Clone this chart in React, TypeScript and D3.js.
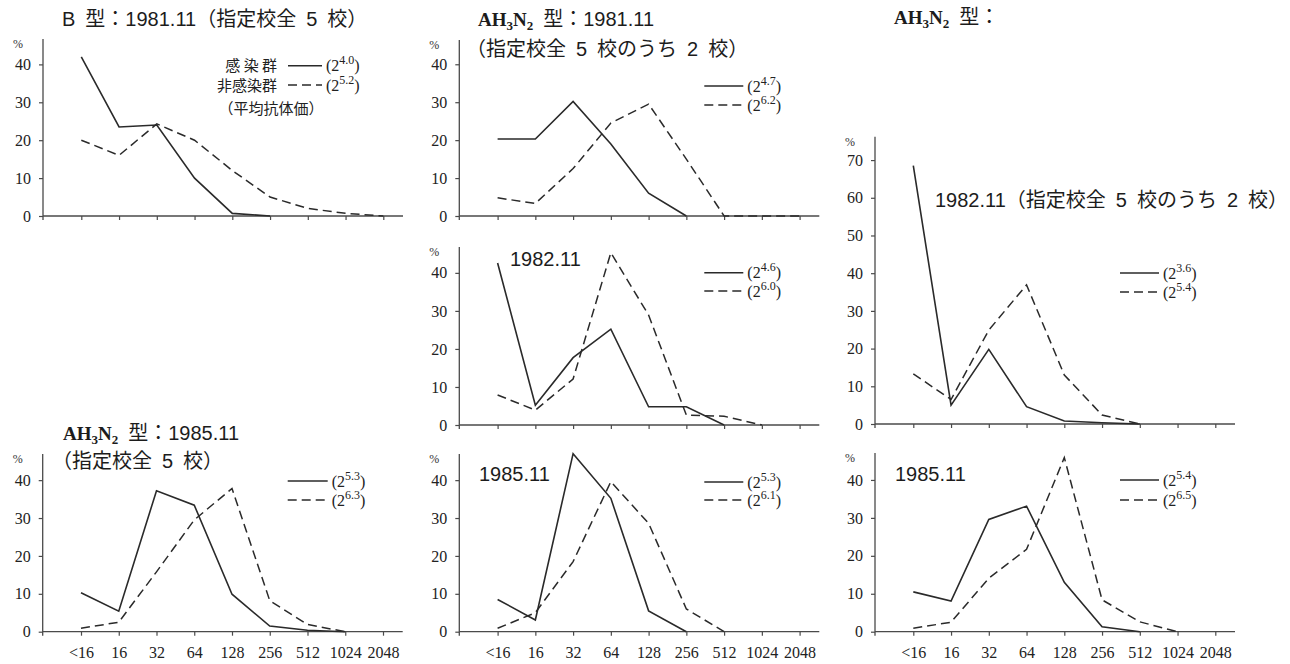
import React, { useEffect, useRef } from "react";
import * as d3 from "d3";

// 抗体価（HI価）の区分
const TITRES = ["<16", "16", "32", "64", "128", "256", "512", "1024", "2048"];

// 各区分の割合 (%)：感染群（実線）/ 非感染群（破線）
const bInfected1981 = [42, 23.5, 24, 10, 0.7, 0];
const bNonInfected1981 = [20, 16, 24.3, 20, 12, 5, 2, 0.7, 0];
const bMeanExp1981 = ["4.0", "5.2"];

const h3Infected1981 = [20.3, 20.3, 30.2, 19, 6, 0];
const h3NonInfected1981 = [4.8, 3.3, 12.5, 24.5, 29.5, 15, 0, 0, 0];
const h3MeanExp1981 = ["4.7", "6.2"];

const h3Infected1982a = [42.6, 5.2, 17.7, 25.2, 4.8, 4.8, 0];
const h3NonInfected1982a = [7.9, 3.9, 12.1, 45.3, 28.9, 2.6, 2.3, 0];
const h3MeanExp1982a = ["4.6", "6.0"];

const h3Infected1982b = [68.5, 5, 19.8, 4.6, 0.8, 0.35, 0];
const h3NonInfected1982b = [13.3, 6.5, 24.9, 36.9, 13, 2.4, 0];
const h3MeanExp1982b = ["3.6", "5.4"];

const h3Infected1985a = [10.3, 5.4, 37.2, 33.4, 9.9, 1.5, 0.4, 0];
const h3NonInfected1985a = [0.9, 2.5, 15.8, 29.5, 37.8, 8.2, 1.9, 0];
const h3MeanExp1985a = ["5.3", "6.3"];

const h3Infected1985b = [8.5, 3.1, 47, 35.2, 5.5, 0];
const h3NonInfected1985b = [0.9, 5, 18.5, 39.6, 28.6, 6, 0];
const h3MeanExp1985b = ["5.3", "6.1"];

const h3Infected1985c = [10.5, 8.1, 29.6, 33.1, 13, 1.3, 0];
const h3NonInfected1985c = [0.9, 2.5, 14.1, 21.7, 45.9, 8.4, 2.6, 0];
const h3MeanExp1985c = ["5.4", "6.5"];

const Y_TICKS_40 = [0, 10, 20, 30, 40];
const Y_TICKS_70 = [0, 10, 20, 30, 40, 50, 60, 70];

const INK = "#2a2a2a";
const AXIS = "#4a4a4a";
const SANS = "'Liberation Sans', Arial, 'Noto Sans CJK JP', sans-serif";
const CJK = "'Noto Sans CJK JP', 'Liberation Sans', sans-serif";
const SERIF = "'Liberation Serif', 'Times New Roman', serif";
const SP = "\u2002"; // 見出し内の語間

type Seg = { t: string; k: "sans" | "bold" | "sub" };
type Caption = { x: number; y: number; segs: Seg[] };

const AH3N2: Seg[] = [
  { t: "AH", k: "bold" },
  { t: "3", k: "sub" },
  { t: "N", k: "bold" },
  { t: "2", k: "sub" },
];

type Panel = {
  x0: number;
  y0: number;
  yTop: number;
  yMax: number;
  yTicks: number[];
  xLabels: boolean;
  infected: number[];
  nonInfected: number[];
  exps: string[];
  legendY: number[];
  legendLen: number;
  groupNames?: boolean;
  captions: Caption[];
};

const PANELS: Panel[] = [
  {
    x0: 43, y0: 216, yTop: 39, yMax: 46.7, yTicks: Y_TICKS_40, xLabels: false,
    infected: bInfected1981, nonInfected: bNonInfected1981, exps: bMeanExp1981,
    legendY: [65.7, 85], legendLen: 34, groupNames: true,
    captions: [{ x: 62, y: 26, segs: [{ t: `B${SP}型：1981.11（指定校全${SP}5${SP}校）`, k: "sans" }] }],
  },
  {
    x0: 459.3, y0: 216, yTop: 40, yMax: 46.4, yTicks: Y_TICKS_40, xLabels: false,
    infected: h3Infected1981, nonInfected: h3NonInfected1981, exps: h3MeanExp1981,
    legendY: [86, 105], legendLen: 39,
    captions: [
      { x: 478, y: 26, segs: [...AH3N2, { t: `${SP}型：1981.11`, k: "sans" }] },
      { x: 466, y: 56, segs: [{ t: `（指定校全${SP}5${SP}校のうち${SP}2${SP}校）`, k: "sans" }] },
    ],
  },
  {
    x0: 459.3, y0: 425, yTop: 247, yMax: 46.8, yTicks: Y_TICKS_40, xLabels: false,
    infected: h3Infected1982a, nonInfected: h3NonInfected1982a, exps: h3MeanExp1982a,
    legendY: [272.7, 291], legendLen: 39,
    captions: [{ x: 510, y: 266, segs: [{ t: "1982.11", k: "sans" }] }],
  },
  {
    x0: 875, y0: 424, yTop: 136.7, yMax: 76.2, yTicks: Y_TICKS_70, xLabels: false,
    infected: h3Infected1982b, nonInfected: h3NonInfected1982b, exps: h3MeanExp1982b,
    legendY: [273, 292], legendLen: 39,
    captions: [
      { x: 894, y: 24, segs: [...AH3N2, { t: `${SP}型：`, k: "sans" }] },
      { x: 935, y: 207, segs: [{ t: `1982.11（指定校全${SP}5${SP}校のうち${SP}2${SP}校）`, k: "sans" }] },
    ],
  },
  {
    x0: 42.7, y0: 631.7, yTop: 454, yMax: 46.9, yTicks: Y_TICKS_40, xLabels: true,
    infected: h3Infected1985a, nonInfected: h3NonInfected1985a, exps: h3MeanExp1985a,
    legendY: [481, 500], legendLen: 40,
    captions: [
      { x: 63, y: 440, segs: [...AH3N2, { t: `${SP}型：1985.11`, k: "sans" }] },
      { x: 52, y: 468, segs: [{ t: `（指定校全${SP}5${SP}校）`, k: "sans" }] },
    ],
  },
  {
    x0: 459.3, y0: 631.7, yTop: 454, yMax: 46.9, yTicks: Y_TICKS_40, xLabels: true,
    infected: h3Infected1985b, nonInfected: h3NonInfected1985b, exps: h3MeanExp1985b,
    legendY: [482, 500], legendLen: 39,
    captions: [{ x: 479, y: 481, segs: [{ t: "1985.11", k: "sans" }] }],
  },
  {
    x0: 875, y0: 631.7, yTop: 453, yMax: 47.1, yTicks: Y_TICKS_40, xLabels: true,
    infected: h3Infected1985c, nonInfected: h3NonInfected1985c, exps: h3MeanExp1985c,
    legendY: [480, 500], legendLen: 39,
    captions: [{ x: 895, y: 481, segs: [{ t: "1985.11", k: "sans" }] }],
  },
];

function drawCaption(g: d3.Selection<SVGGElement, unknown, null, undefined>, c: Caption) {
  const text = g
    .append("text")
    .attr("x", c.x)
    .attr("y", c.y)
    .attr("fill", "#1c1c1c")
    .style("white-space", "pre");
  let shift = 0;
  c.segs.forEach((s) => {
    const span = text.append("tspan").text(s.t);
    const target = s.k === "sub" ? 4 : 0;
    if (target !== shift) {
      span.attr("dy", target - shift);
      shift = target;
    }
    if (s.k === "sans") span.style("font-family", SANS).attr("font-size", 20);
    else if (s.k === "bold")
      span.style("font-family", SERIF).attr("font-weight", "bold").attr("font-size", 19);
    else span.style("font-family", SERIF).attr("font-weight", "bold").attr("font-size", 13);
  });
}

function drawPanel(svg: d3.Selection<SVGSVGElement, unknown, null, undefined>, p: Panel) {
  const g = svg.append("g");
  const x = d3
    .scalePoint<string>()
    .domain(TITRES)
    .range([p.x0 + 38.3, p.x0 + 340.3]);
  const y = d3.scaleLinear().domain([0, p.yMax]).range([p.y0, p.yTop]);

  // x 軸
  const xAxis = g
    .append("g")
    .attr("transform", `translate(0,${p.y0})`)
    .call(
      d3
        .axisBottom(x)
        .tickSize(4)
        .tickPadding(11)
        .tickFormat((d) => (p.xLabels ? d : ""))
    );
  xAxis.select(".domain").remove();
  xAxis.selectAll("line").attr("stroke", AXIS).attr("stroke-width", 1.2);
  xAxis
    .selectAll("text")
    .style("font-family", SERIF)
    .style("font-size", "16px")
    .attr("fill", "#222");
  g.append("line")
    .attr("x1", p.x0)
    .attr("x2", p.x0 + 360)
    .attr("y1", p.y0)
    .attr("y2", p.y0)
    .attr("stroke", AXIS)
    .attr("stroke-width", 1.3);

  // y 軸
  const yAxis = g
    .append("g")
    .attr("transform", `translate(${p.x0},0)`)
    .call(d3.axisLeft(y).tickValues(p.yTicks).tickSize(4).tickPadding(8));
  yAxis.select(".domain").remove();
  yAxis.selectAll("line").attr("stroke", AXIS).attr("stroke-width", 1.2);
  yAxis
    .selectAll("text")
    .style("font-family", SERIF)
    .style("font-size", "16px")
    .attr("fill", "#222");
  g.append("line")
    .attr("x1", p.x0)
    .attr("x2", p.x0)
    .attr("y1", p.yTop)
    .attr("y2", p.y0 + 4)
    .attr("stroke", AXIS)
    .attr("stroke-width", 1.3);
  g.append("text")
    .attr("x", p.x0 - 30)
    .attr("y", p.yTop + 9)
    .style("font-family", SERIF)
    .attr("font-size", 12)
    .attr("fill", "#333")
    .text("%");

  // 分布線
  const line = d3
    .line<number>()
    .x((_, i) => x(TITRES[i]) as number)
    .y((d) => y(d));
  g.append("path")
    .attr("d", line(p.nonInfected))
    .attr("fill", "none")
    .attr("stroke", INK)
    .attr("stroke-width", 1.5)
    .attr("stroke-dasharray", "9,5");
  g.append("path")
    .attr("d", line(p.infected))
    .attr("fill", "none")
    .attr("stroke", INK)
    .attr("stroke-width", 1.6);

  // 凡例（平均抗体価）
  const lx = p.x0 + 245;
  p.exps.forEach((e, i) => {
    const ly = p.legendY[i];
    g.append("line")
      .attr("x1", lx)
      .attr("x2", lx + p.legendLen)
      .attr("y1", ly)
      .attr("y2", ly)
      .attr("stroke", INK)
      .attr("stroke-width", 1.5)
      .attr("stroke-dasharray", i === 0 ? null : "9,5");
    const t = g
      .append("text")
      .attr("x", lx + p.legendLen + 4)
      .attr("y", ly + 5.5)
      .style("font-family", SERIF)
      .attr("font-size", 16)
      .attr("fill", "#222");
    t.append("tspan").text("(2");
    t.append("tspan").attr("font-size", 12).attr("dy", -7).text(e);
    t.append("tspan").attr("dy", 7).text(")");
  });
  if (p.groupNames) {
    const names = ["感 染 群", "非感染群"];
    names.forEach((n, i) => {
      g.append("text")
        .attr("x", lx - 11)
        .attr("y", p.legendY[i] + 5.5)
        .attr("text-anchor", "end")
        .style("font-family", CJK)
        .attr("font-size", 15)
        .attr("fill", "#222")
        .style("white-space", "pre")
        .text(n);
    });
    g.append("text")
      .attr("x", lx - 17)
      .attr("y", p.legendY[1] + 29)
      .attr("text-anchor", "middle")
      .style("font-family", CJK)
      .attr("font-size", 15)
      .attr("fill", "#222")
      .text("（平均抗体価）");
  }

  p.captions.forEach((c) => drawCaption(g, c));
}

export default function App() {
  const ref = useRef<SVGSVGElement | null>(null);
  useEffect(() => {
    if (!ref.current) return;
    const svg = d3.select(ref.current);
    svg.selectAll("*").remove();
    PANELS.forEach((p) => drawPanel(svg, p));
  }, []);
  return (
    <svg
      ref={ref}
      width={1290}
      height={664}
      style={{ position: "absolute", left: 0, top: 0, background: "#fff", display: "block" }}
    />
  );
}
